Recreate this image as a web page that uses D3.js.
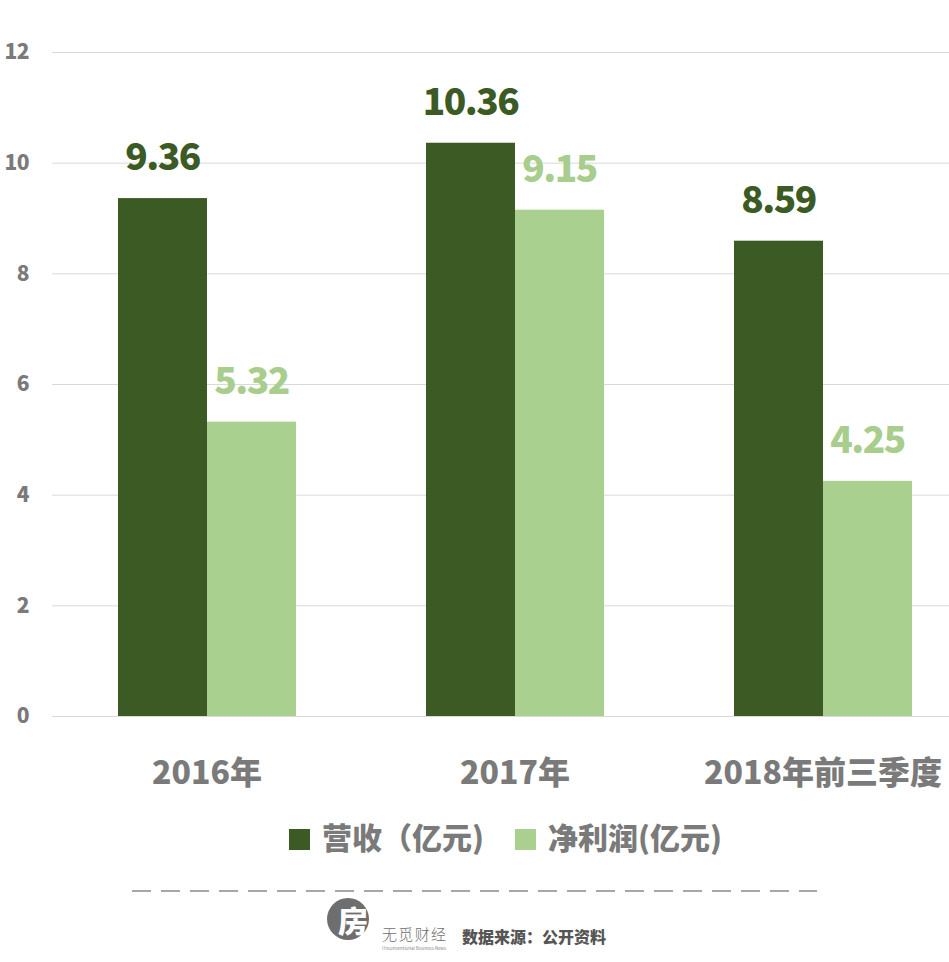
<!DOCTYPE html>
<html>
<head>
<meta charset="utf-8">
<script src="https://cdn.jsdelivr.net/npm/d3@7"></script>
<style>
  html, body { margin: 0; padding: 0; background: #ffffff; }
  svg { display: block; }
  text { font-family: "Noto Sans CJK SC", "Noto Sans", sans-serif; }
</style>
</head>
<body>
<svg id="chart" width="949" height="962"></svg>
<script>
// ---- data ----
const categories = ["2016年", "2017年", "2018年前三季度"];
const revenue = [9.36, 10.36, 8.59];
const profit = [5.32, 9.15, 4.25];
const seriesNames = ["营收（亿元)", "净利润(亿元)"];
const yTicks = [0, 2, 4, 6, 8, 10, 12];
const sourceText = "数据来源：公开资料";
const brandText = "无觅财经";
const brandSub = "Unconventional Business News";

// ---- styles ----
const colors = ["#3b5a24", "#a9d08e"];
const labelColors = ["#3b5a24", "#a8cd8c"];
const gray = "#7a7a7a";

const svg = d3.select("#chart");

const y = d3.scaleLinear().domain([0, 12]).range([716, 52]);
const x0 = d3.scaleBand().domain(categories).range([53, 977])
  .paddingInner(0.422).paddingOuter(0.211);
const x1 = d3.scaleBand().domain([0, 1]).range([0, x0.bandwidth()]);

// grid + y axis
const yAxis = d3.axisLeft(y).tickValues(yTicks).tickSize(-(949 - 52)).tickPadding(23);
const ga = svg.append("g").attr("transform", "translate(52,0)").call(yAxis);
ga.select(".domain").remove();
ga.selectAll(".tick line").attr("stroke", "#d9d9d9").attr("stroke-width", 1);
ga.selectAll(".tick text")
  .attr("fill", gray).attr("font-size", 21).attr("font-weight", 900)
  .attr("letter-spacing", -0.5)
  .attr("font-family", "'Noto Sans CJK SC', sans-serif");

// bars
const data = categories.map((c, i) => ({ cat: c, vals: [revenue[i], profit[i]] }));
const groups = svg.selectAll("g.grp").data(data).join("g")
  .attr("class", "grp")
  .attr("transform", d => `translate(${x0(d.cat)},0)`);

groups.selectAll("rect").data(d => d.vals.map((v, k) => ({ v, k }))).join("rect")
  .attr("x", d => x1(d.k))
  .attr("width", x1.bandwidth())
  .attr("y", d => y(d.v))
  .attr("height", d => y(0) - y(d.v))
  .attr("fill", d => colors[d.k]);

groups.selectAll("text.val").data(d => d.vals.map((v, k) => ({ v, k }))).join("text")
  .attr("class", "val")
  .attr("x", d => x1(d.k) + x1.bandwidth() / 2)
  .attr("y", d => y(d.v) - 28)
  .attr("text-anchor", "middle")
  .attr("font-size", 37).attr("font-weight", 900)
  .attr("letter-spacing", -1.5)
  .attr("fill", d => labelColors[d.k])
  .text(d => d.v.toFixed(2));

// x axis labels
const xAxis = d3.axisBottom(x0).tickSize(0).tickPadding(0);
const gx = svg.append("g").attr("transform", "translate(0,784)").call(xAxis);
gx.select(".domain").remove();
gx.selectAll(".tick text")
  .attr("dy", 0).attr("y", 0)
  .attr("fill", gray).attr("font-size", 32).attr("font-weight", 900)
  .attr("font-family", "'Noto Sans CJK SC', sans-serif");

// legend
const legendX = [289, 515];
const lg = svg.append("g");
seriesNames.forEach((name, k) => {
  lg.append("rect").attr("x", legendX[k]).attr("y", 829)
    .attr("width", 21).attr("height", 21).attr("fill", colors[k]);
  lg.append("text").attr("x", legendX[k] + 33).attr("y", 849)
    .attr("font-size", 30).attr("font-weight", 900).attr("fill", gray)
    .text(name);
});

// dashed separator
svg.append("line").attr("x1", 132).attr("x2", 817).attr("y1", 891).attr("y2", 891)
  .attr("stroke", "#8a8a8a").attr("stroke-width", 1.3).attr("stroke-dasharray", "19,10");

// footer logo + source
svg.append("circle").attr("cx", 348).attr("cy", 919).attr("r", 21).attr("fill", "#6e6e6e");
svg.append("text").attr("x", 353).attr("y", 932).attr("text-anchor", "middle")
  .attr("font-size", 30).attr("font-weight", 900).attr("fill", "#ffffff").text("房");
svg.append("text").attr("x", 382).attr("y", 940)
  .attr("font-size", 15).attr("font-weight", 300).attr("fill", "#6e6e6e")
  .attr("textLength", 64).text(brandText);
svg.append("text").attr("x", 382).attr("y", 950)
  .attr("font-size", 4.5).attr("fill", "#8a8a8a").attr("font-family", "Roboto, sans-serif")
  .attr("textLength", 64).text(brandSub);
svg.append("text").attr("x", 462).attr("y", 943)
  .attr("font-size", 16).attr("font-weight", 900).attr("fill", "#555555")
  .text(sourceText);
</script>
</body>
</html>
